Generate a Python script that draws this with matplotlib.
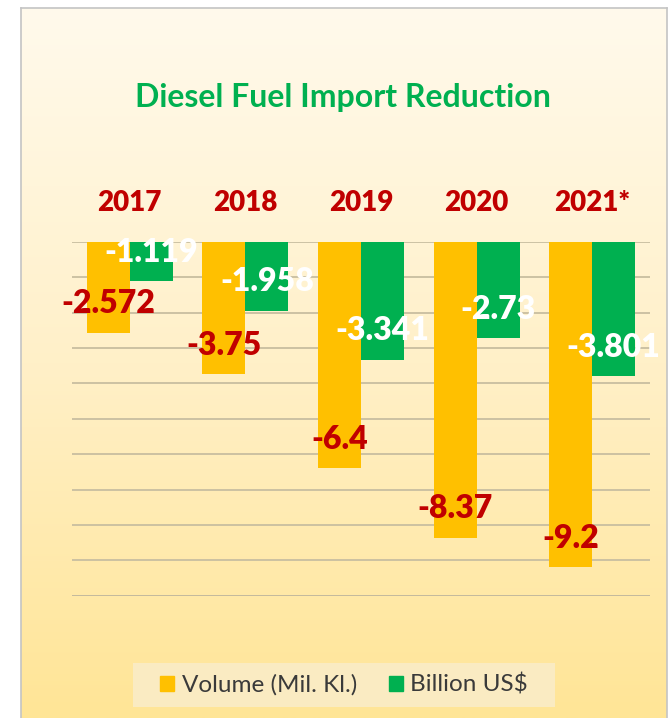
import numpy as np
import matplotlib.pyplot as plt
from matplotlib.colors import LinearSegmentedColormap
from matplotlib.patches import Rectangle, Patch

years = ['2017', '2018', '2019', '2020', '2021*']
volume = [-2.572, -3.75, -6.4, -8.37, -9.2]
billion_usd = [-1.119, -1.958, -3.341, -2.73, -3.801]
vol_labels = ['-2.572', '-3.75', '-6.4', '-8.37', '-9.2']
usd_labels = ['-1.119', '-1.958', '-3.341', '-2.73', '-3.801']

yellow = '#FFC000'
green = '#00B050'
red = '#C00000'
font = ['Lato', 'DejaVu Sans']

W, H = 671, 718
fig = plt.figure(figsize=(W / 100, H / 100), dpi=100)
fig.patch.set_facecolor('white')

# chart area background with vertical gradient
bg = fig.add_axes([21 / W, 0, (667 - 21) / W, 1 - 8 / H])
grad_cmap = LinearSegmentedColormap.from_list('bg', ['#FFFAEC', '#FFF0C8', '#FFE596'])
bg.imshow(np.linspace(0, 1, 256).reshape(-1, 1), aspect='auto', cmap=grad_cmap,
          extent=[0, 1, 0, 1])
bg.set_xticks([])
bg.set_yticks([])
bg.spines['bottom'].set_visible(False)
for side in ['top', 'left', 'right']:
    bg.spines[side].set_color('#C4C4C4')
    bg.spines[side].set_linewidth(1.2)

ax = fig.add_axes([72 / W, 1 - 595.7 / H, 578 / W, 354 / H])
ax.patch.set_alpha(0)
x = np.arange(len(years))
w = 0.372
ax.bar(x - w / 2, volume, w, color=yellow, zorder=3)
ax.bar(x + w / 2, billion_usd, w, color=green, zorder=3)

ax.set_xlim(-0.5, len(years) - 0.5)
ax.set_ylim(-10, 0)
ax.set_yticks(np.arange(-10, 1, 1))
ax.yaxis.grid(True, color='#C8BEA0', linewidth=1.3, zorder=0)
ax.tick_params(left=False, bottom=False, labelleft=False, labelbottom=False)
for s in ax.spines.values():
    s.set_visible(False)
ax.axhline(-10, color='#9A9688', linewidth=1.3, zorder=1)

for i, yr in enumerate(years):
    ax.text(x[i], 1.09, yr, ha='center', va='center', color=red,
            fontsize=20, fontweight='heavy', family=font, clip_on=False)

for i in range(len(years)):
    ax.annotate(vol_labels[i], (x[i] - w / 2, volume[i]), xytext=(0, 21),
                textcoords='offset points', ha='center', va='center',
                color=red, fontsize=23, fontweight='heavy', family=font, zorder=5)
    ax.annotate(usd_labels[i], (x[i] + w / 2, billion_usd[i]), xytext=(0, 21),
                textcoords='offset points', ha='center', va='center',
                color='white', fontsize=23, fontweight='heavy', family=font, zorder=5)

fig.text(343 / W, 1 - 97 / H, 'Diesel Fuel Import Reduction', ha='center',
         va='center', color=green, fontsize=23, fontweight='bold', family=font)

# legend
fig.patches.append(Rectangle((133 / W, 1 - 707 / H), (555 - 133) / W, 44 / H,
                             transform=fig.transFigure, facecolor='#FAEBC2',
                             edgecolor='none', zorder=1))
handles = [Patch(color=yellow, label='Volume (Mil. Kl.)'),
           Patch(color=green, label='Billion US$')]
fig.legend(handles=handles, loc='center', bbox_to_anchor=(344 / W, 1 - 685 / H),
           ncol=2, frameon=False, handlelength=0.6, handleheight=0.6,
           handletextpad=0.3, columnspacing=1.3,
           prop={'family': font, 'size': 17.5}, labelcolor='#3A3A3A')

fig.savefig('out.png', dpi=100)
